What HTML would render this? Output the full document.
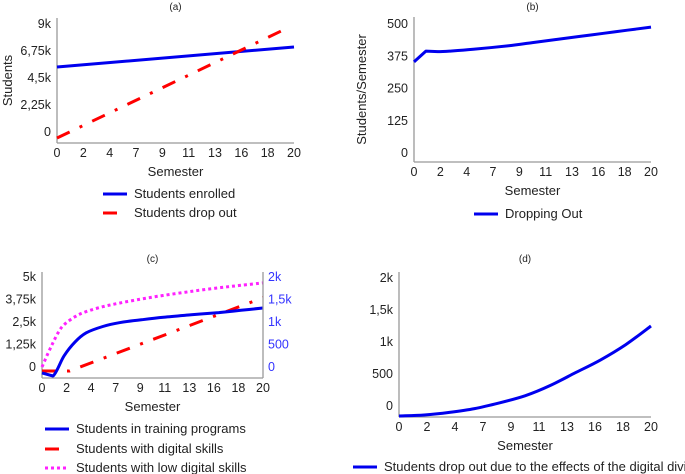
<!DOCTYPE html>
<html><head><meta charset="utf-8">
<style>
html,body{margin:0;padding:0;background:#fff;}
svg{display:block;font-family:"Liberation Sans",Arial,sans-serif;}
</style></head>
<body>
<svg id="c" width="685" height="474" xmlns="http://www.w3.org/2000/svg"></svg>
<script>
const xTickLabels = ["0","2","4","7","9","11","13","16","18","20"];
// panel a
const aTicks = [0,2250,4500,6750,9000];
const aTickLabels = ["0","2,25k","4,5k","6,75k","9k"];
const aX = [0,20];
const aEnrolled = [5417,7083];
const aDropX = [0,19.1];
const aDrop = [-500,8500];
// panel b
const bTicks = [0,125,250,375,500];
const bTickLabels = ["0","125","250","375","500"];
const bX = [0,1,2,3,5,8,10,12,14,16,18,20];
const bDropping = [353,395,393,395,402,416,428,440,452,464,476,488];
// panel c
const cTicks = [0,1250,2500,3750,5000];
const cTickLabels = ["0","1,25k","2,5k","3,75k","5k"];
const cRTicks = [0,500,1000,1500,2000];
const cRTickLabels = ["0","500","1k","1,5k","2k"];
const cLowX = [0,0.5,1,1.5,2,3,4,5.5,7,9,11,13.5,16,18,20];
const cLow = [0,700,1350,1950,2350,2800,3080,3350,3550,3780,3980,4200,4400,4540,4670];
const cTrainX = [0,1,2,3,4,5.5,7,9,11,13.5,16,18,20];
const cTrain = [-130,-200,250,560,760,900,985,1050,1105,1160,1210,1260,1311];
const cDigX = [0,2.5,20];
const cDig = [-220,-220,3850];
// panel d
const dTicks = [0,500,1000,1500,2000];
const dTickLabels = ["0","500","1k","1,5k","2k"];
const dX = [0,2,4,6,8,10,12,14,16,18,20];
const dDivide = [-156,-140,-100,-40,50,160,320,520,720,960,1250];

const NS="http://www.w3.org/2000/svg";
const svg=document.getElementById('c');
function el(tag,attrs,parent){const e=document.createElementNS(NS,tag);for(const k in attrs)e.setAttribute(k,attrs[k]);(parent||svg).appendChild(e);return e;}
function txt(s,x,y,attrs){const e=el('text',Object.assign({x:x,y:y,'font-size':12,fill:'#222'},attrs||{}));e.textContent=s;return e;}

function panel(p){
  const g=el('g',{});
  
  
  const sx=v=>p.x0+(v/20)*(p.x1-p.x0);
  const sy=v=>p.y0+(v-p.vmin)/(p.vmax-p.vmin)*(p.y1-p.y0);
  const t=txt(p.title,(p.x0+p.x1)/2,p.titleY,{'font-size':10,'text-anchor':'middle'});
  
  const ya=el('line',{x1:p.x0,y1:p.axTop,x2:p.x0,y2:p.axBot,stroke:'#999','stroke-width':1.3},g);
  
  const xa=el('line',{x1:p.x0,y1:p.axBot,x2:p.x1,y2:p.axBot,stroke:'#999','stroke-width':1.3},g);
  
  xTickLabels.forEach((l,i)=>{
    const e=txt(l,sx(i*20/9),p.axBot+14,{'text-anchor':'middle','font-size':12.5});
    
  });
  p.ticks.forEach((v,i)=>{
    const e=txt(p.tickLabels[i],p.x0-6,sy(v)+4,{'text-anchor':'end','font-size':12.5});
    
  });
  const xl=txt('Semester',(p.x0+p.x1)/2,p.axBot+33,{'text-anchor':'middle','font-size':13});
  
  if(p.ylabel){
    const yl=txt(p.ylabel,0,0,{'text-anchor':'middle','font-size':13,transform:`translate(${p.ylx},${(p.axTop+p.axBot)/2}) rotate(-90)`});
    
  }
  return {g,sx,sy};
}
function series(P,xs,ys,style,name,syf,smooth){
  const f=syf||P.sy;
  const pts=xs.map((x,i)=>[P.sx(x),f(ys[i])]);
  let d='M'+pts[0][0].toFixed(1)+','+pts[0][1].toFixed(1);
  for(let i=0;i<pts.length-1;i++){
    if(smooth && !(smooth.noSmoothBefore!==undefined && i<smooth.noSmoothBefore)){
      const p0=pts[Math.max(i-1,0)],p1=pts[i],p2=pts[i+1],p3=pts[Math.min(i+2,pts.length-1)];
      const c1=[p1[0]+(p2[0]-p0[0])/6,p1[1]+(p2[1]-p0[1])/6];
      const c2=[p2[0]-(p3[0]-p1[0])/6,p2[1]-(p3[1]-p1[1])/6];
      d+=` C${c1[0].toFixed(1)},${c1[1].toFixed(1)} ${c2[0].toFixed(1)},${c2[1].toFixed(1)} ${p2[0].toFixed(1)},${p2[1].toFixed(1)}`;
    } else d+=' L'+p2s(pts[i+1]);
  }
  const e=el('path',Object.assign({d:d,fill:'none','stroke-width':3,'stroke-linejoin':'round'},style),P.g);
  
  
}
function p2s(p){return p[0].toFixed(1)+','+p[1].toFixed(1);}
function legend(x,y,style,label,name){
  const l=el('line',Object.assign({x1:x,y1:y,x2:x+24,y2:y,'stroke-width':3},style));
  
  const t=txt(label,x+31,y+4,{'font-size':13});
  
}
const BLUE={stroke:'#0000ee'},RED={stroke:'#ff0000','stroke-dasharray':'14 11 3 11'},MAG={stroke:'#ff22ff','stroke-dasharray':'3 3'};

// (a)
const A=panel({name:'panel-a',title:'(a)',titleY:10,x0:57,x1:294,axTop:18,axBot:143,vmin:0,vmax:9000,y0:132,y1:24,ticks:aTicks,tickLabels:aTickLabels,ylabel:'Students',ylx:12});
series(A,aX,aEnrolled,BLUE,'students-enrolled-line');
series(A,aDropX,aDrop,RED,'students-drop-out-line');
legend(103,194,BLUE,'Students enrolled','legend-students-enrolled');
legend(103,213,RED,'Students drop out','legend-students-drop-out');

// (b)
const B=panel({name:'panel-b',title:'(b)',titleY:10,x0:414,x1:651,axTop:17,axBot:162,vmin:0,vmax:500,y0:153,y1:24,ticks:bTicks,tickLabels:bTickLabels,ylabel:'Students/Semester',ylx:366});
series(B,bX,bDropping,BLUE,'dropping-out-line',null,{noSmoothBefore:2});
legend(474,214,BLUE,'Dropping Out','legend-dropping-out');

// (c)
const C=panel({name:'panel-c',title:'(c)',titleY:262,x0:42,x1:263,axTop:272,axBot:378,vmin:0,vmax:5000,y0:367,y1:277,ticks:cTicks,tickLabels:cTickLabels});
const ra=el('line',{x1:263,y1:272,x2:263,y2:378,stroke:'#999','stroke-width':1.3});

const syR=v=>367+v/2000*(277-367);
cRTicks.forEach((v,i)=>{
  const e=txt(cRTickLabels[i],268,syR(v)+4,{fill:'#3333ff','font-size':12.5});
  
});
series(C,cLowX,cLow,MAG,'low-digital-skills-line',null,{});
series(C,cDigX,cDig,RED,'digital-skills-line');
series(C,cTrainX,cTrain,BLUE,'training-programs-line',syR,{noSmoothBefore:1});
legend(45,429,BLUE,'Students in training programs','legend-training-programs');
legend(45,449,RED,'Students with digital skills','legend-digital-skills');
legend(45,468,MAG,'Students with low digital skills','legend-low-digital-skills');

// (d)
const D=panel({name:'panel-d',title:'(d)',titleY:262,x0:399,x1:651,axTop:272,axBot:417,vmin:0,vmax:2000,y0:406,y1:278,ticks:dTicks,tickLabels:dTickLabels});
series(D,dX,dDivide,BLUE,'digital-divide-drop-out-line',null,{});
legend(353,467,BLUE,'Students drop out due to the effects of the digital divide','legend-digital-divide');
</script>
</body></html>
